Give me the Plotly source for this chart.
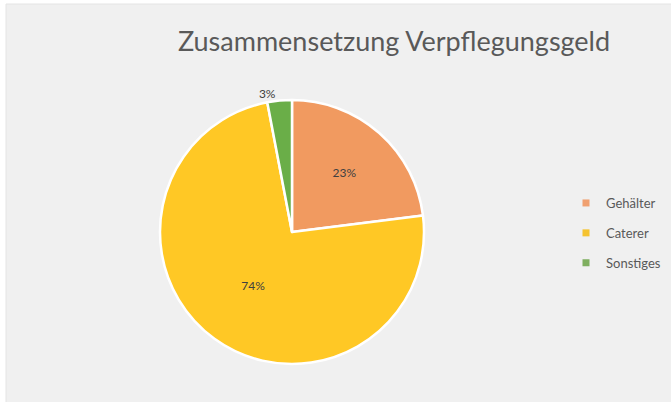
import plotly.graph_objects as go

labels = ["Gehälter", "Caterer", "Sonstiges"]
values = [23, 74, 3]
colors = ["#F19A60", "#FFC825", "#6AAE48"]
legend_colors = ["#F0A070", "#F5C330", "#7FAF60"]
title_text = "Zusammensetzung Verpflegungsgeld"

W, H = 671, 402

fig = go.Figure()
fig.add_trace(go.Pie(
    labels=labels,
    values=values,
    marker=dict(colors=colors, line=dict(color="white", width=2.5)),
    sort=False,
    direction="clockwise",
    rotation=0,
    texttemplate="%{percent:.0%}",
    textposition=["inside", "inside", "outside"],
    insidetextorientation="horizontal",
    textfont=dict(family="Lato", size=12, color="#404040"),
    showlegend=False,
    domain=dict(x=[160 / W, 424 / W], y=[(H - 364) / H, (H - 100) / H]),
    hoverinfo="label+percent",
))

for lab, col in zip(labels, legend_colors):
    fig.add_trace(go.Scatter(
        x=[None], y=[None], mode="markers", name=lab,
        marker=dict(symbol="square", size=7, color=col),
        legendgroup=lab, showlegend=True,
    ))

fig.add_shape(type="rect", xref="paper", yref="paper",
              x0=6 / W, x1=1.01, y0=-0.01, y1=1 - 4 / H,
              fillcolor="#F0F0F0", line=dict(width=1, color="#E4E4E4"), layer="below")

fig.update_layout(
    width=W, height=H,
    margin=dict(l=0, r=0, t=0, b=0),
    paper_bgcolor="white",
    plot_bgcolor="rgba(0,0,0,0)",
    title=dict(text=title_text, x=394 / W, xanchor="center", y=1 - 42 / H, yanchor="middle",
               font=dict(family="Lato", size=27, color="#595959")),
    xaxis=dict(visible=False),
    yaxis=dict(visible=False),
    legend=dict(x=566 / W, y=1 - 188 / H, xanchor="left", yanchor="top",
                font=dict(family="Lato", size=13, color="#595959"),
                tracegroupgap=10, bgcolor="rgba(0,0,0,0)", itemwidth=30),
    font=dict(family="Lato"),
)

fig.write_html("out.html", config={"displayModeBar": False},
               post_script="document.body.style.margin='0';")
